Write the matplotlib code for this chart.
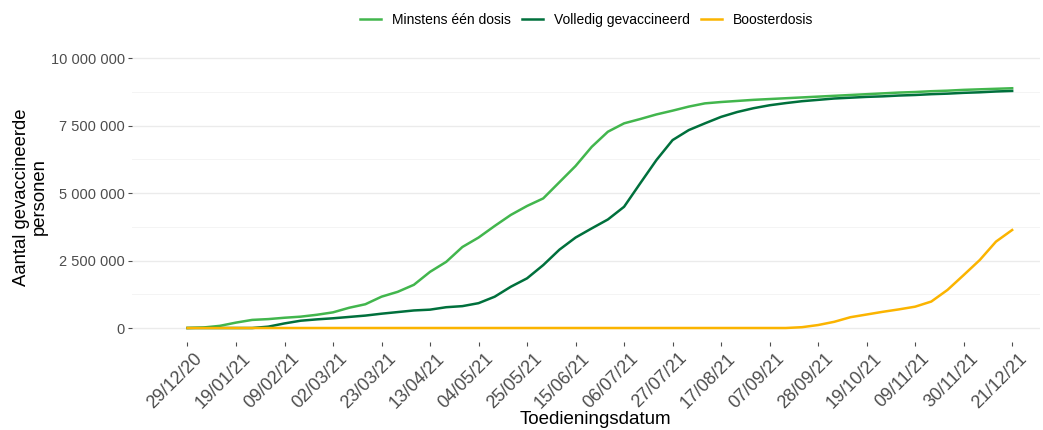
import numpy as np
import pandas as pd
import matplotlib
matplotlib.use("Agg")
import matplotlib.pyplot as plt
import matplotlib.dates as mdates
import matplotlib.transforms as mtransforms
from matplotlib.ticker import FuncFormatter

plt.rcParams['font.family'] = ['Liberation Sans', 'DejaVu Sans']

# weekly readings (millions of people), starting 29/12/2020
dates = pd.date_range('2020-12-29', periods=52, freq='7D')

eerste_dosis = [0.0, 0.02, 0.08, 0.2, 0.3, 0.33, 0.38, 0.42, 0.49, 0.58,
                0.75, 0.88, 1.16, 1.34, 1.6, 2.08, 2.45, 3.0, 3.35, 3.78,
                4.19, 4.52, 4.8, 5.4, 6.0, 6.71, 7.27, 7.58, 7.74, 7.91,
                8.05, 8.2, 8.32, 8.37, 8.41, 8.45, 8.48, 8.51, 8.54, 8.57,
                8.6, 8.63, 8.66, 8.69, 8.72, 8.74, 8.77, 8.79, 8.82, 8.84,
                8.86, 8.88]

volledig = [0.0, 0.0, 0.0, 0.0, 0.0, 0.05, 0.17, 0.27, 0.32, 0.36,
            0.41, 0.46, 0.53, 0.59, 0.65, 0.68, 0.77, 0.81, 0.92, 1.16,
            1.53, 1.84, 2.33, 2.9, 3.35, 3.69, 4.02, 4.49, 5.36, 6.22,
            6.96, 7.33, 7.58, 7.82, 8.0, 8.14, 8.25, 8.33, 8.4, 8.45,
            8.5, 8.53, 8.56, 8.58, 8.61, 8.63, 8.66, 8.68, 8.71, 8.73,
            8.76, 8.78]

booster = [0.0] * 38 + [0.03, 0.11, 0.23, 0.4, 0.5, 0.6, 0.69, 0.79,
                        0.98, 1.41, 1.96, 2.52, 3.2, 3.63]

series = [
    ('Minstens één dosis', eerste_dosis, '#42B64D'),
    ('Volledig gevaccineerd', volledig, '#00703C'),
    ('Boosterdosis', booster, '#FBB400'),
]

fig = plt.figure(figsize=(10.43, 4.30), dpi=100)
ax = fig.add_axes([0.1266, 0.2058, 0.8704, 0.6907])

for label, vals, col in series:
    ax.plot(dates, np.array(vals) * 1e6, color=col, lw=1.8, label=label)

# axes limits
ax.set_xlim(pd.Timestamp('2020-12-29') - pd.Timedelta(days=24),
            pd.Timestamp('2021-12-21') + pd.Timedelta(days=12))
ax.set_ylim(-0.5e6, 10.5e6)

# ticks
xticks = pd.date_range('2020-12-29', '2021-12-21', freq='21D')
ax.set_xticks(xticks)
ax.xaxis.set_major_formatter(mdates.DateFormatter('%d/%m/%y'))
ax.set_yticks([0, 2.5e6, 5e6, 7.5e6, 10e6])
ax.set_yticks([1.25e6, 3.75e6, 6.25e6, 8.75e6], minor=True)
ax.yaxis.set_major_formatter(FuncFormatter(lambda v, p: f"{int(v):,}".replace(',', ' ')))

ax.tick_params(axis='x', labelsize=13, colors='#4D4D4D', length=3, width=0.8, pad=3)
ax.tick_params(axis='y', labelsize=10.5, colors='#4D4D4D', length=3, width=0.8, pad=2)
ax.tick_params(axis='y', which='minor', length=0)

shift = mtransforms.ScaledTranslation(6 / 100, 0, fig.dpi_scale_trans)
for lab in ax.get_xticklabels():
    lab.set_rotation(45)
    lab.set_ha('right')
    lab.set_rotation_mode('anchor')
    lab.set_transform(lab.get_transform() + shift)

# grid: horizontal only
ax.grid(axis='y', which='major', color='#EBEBEB', lw=1.0)
ax.grid(axis='y', which='minor', color='#F4F4F4', lw=0.7)
ax.grid(axis='x', visible=False)
ax.set_axisbelow(True)
for s in ax.spines.values():
    s.set_visible(False)

fig.text(595 / 1043, 1 - 420 / 430, 'Toedieningsdatum', ha='center', va='center',
         fontsize=13.5, color='black')
fig.text(0.029, 1 - 197 / 430, 'Aantal gevaccineerde\npersonen', ha='center', va='center',
         rotation=90, fontsize=13.3, color='black', multialignment='center', linespacing=1.05)

fig.legend(loc='center', bbox_to_anchor=(587 / 1043, 1 - 20 / 430), ncol=3, frameon=False,
           fontsize=10, handlelength=1.5, columnspacing=0.8, handletextpad=0.8)

fig.savefig('out.png', dpi=100)
